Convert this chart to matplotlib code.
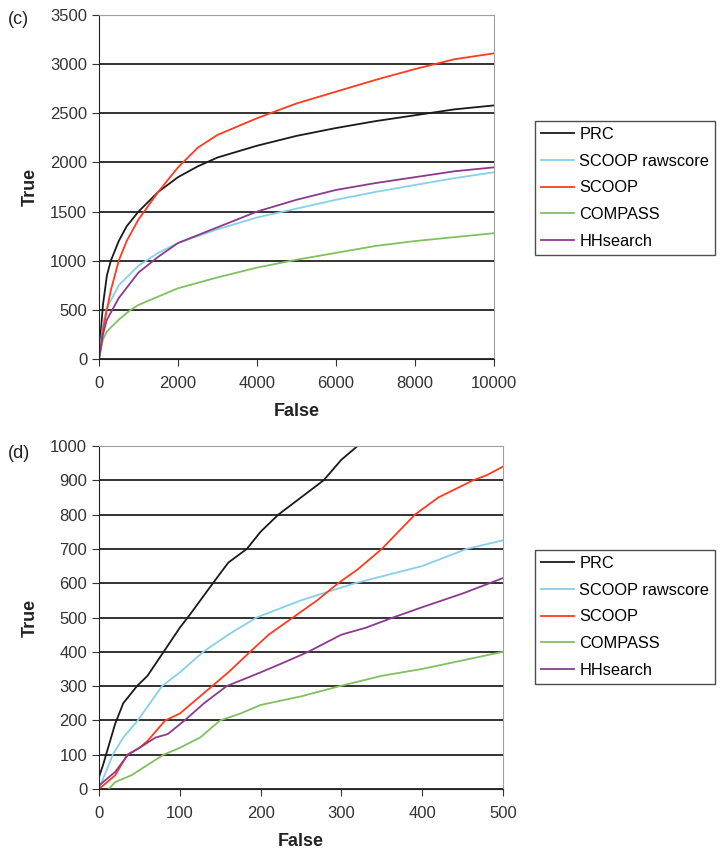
import numpy as np
import matplotlib
matplotlib.use("Agg")
import matplotlib.pyplot as plt

plt.rcParams['font.family'] = ['Liberation Sans', 'DejaVu Sans']

# ---- panel (c): False 0-10000 ----
c_prc_x = [0, 50, 100, 200, 300, 500, 700, 1000, 1500, 2000, 2500, 3000, 4000, 5000, 6000, 7000, 8000, 9000, 10000]
c_prc_y = [0, 300, 550, 850, 1000, 1200, 1350, 1500, 1700, 1850, 1960, 2050, 2170, 2270, 2350, 2420, 2480, 2540, 2580]

c_raw_x = [0, 100, 200, 500, 1000, 1500, 2000, 3000, 4000, 5000, 6000, 7000, 8000, 9000, 10000]
c_raw_y = [0, 350, 520, 750, 950, 1080, 1180, 1320, 1440, 1530, 1620, 1700, 1770, 1840, 1900]

c_scoop_x = [0, 100, 200, 300, 500, 700, 1000, 1500, 2000, 2500, 3000, 4000, 5000, 6000, 7000, 8000, 9000, 10000]
c_scoop_y = [0, 300, 500, 700, 1000, 1200, 1420, 1700, 1950, 2150, 2280, 2450, 2600, 2720, 2840, 2950, 3050, 3110]

c_compass_x = [0, 100, 200, 500, 800, 1000, 2000, 3000, 4000, 5000, 6000, 7000, 8000, 9000, 10000]
c_compass_y = [0, 200, 280, 400, 500, 550, 720, 830, 930, 1010, 1080, 1150, 1200, 1240, 1280]

c_hh_x = [0, 100, 200, 500, 1000, 1500, 2000, 3000, 4000, 5000, 6000, 7000, 8000, 9000, 10000]
c_hh_y = [0, 250, 400, 620, 880, 1040, 1180, 1340, 1500, 1620, 1720, 1790, 1850, 1910, 1950]

# ---- panel (d): False 0-500 ----
d_prc_x = [0, 5, 10, 20, 30, 47, 60, 80, 100, 113, 141, 160, 183, 200, 222, 250, 278, 300, 320]
d_prc_y = [35, 70, 110, 190, 250, 300, 330, 400, 470, 510, 600, 660, 700, 750, 800, 850, 900, 960, 1000]

d_raw_x = [0, 17, 30, 48, 78, 100, 129, 160, 195, 250, 317, 400, 455, 500]
d_raw_y = [0, 100, 150, 200, 300, 340, 400, 450, 500, 550, 600, 650, 700, 725]

d_scoop_x = [0, 10, 20, 35, 50, 60, 82, 100, 120, 140, 160, 187, 210, 240, 270, 296, 320, 350, 391, 420, 463, 480, 500]
d_scoop_y = [0, 20, 40, 100, 120, 140, 200, 220, 260, 300, 340, 400, 450, 500, 550, 600, 640, 700, 800, 850, 900, 915, 940]

d_compass_x = [12, 20, 40, 60, 80, 100, 125, 150, 175, 200, 250, 298, 350, 400, 450, 500]
d_compass_y = [0, 20, 40, 70, 100, 120, 150, 200, 220, 245, 270, 300, 330, 350, 375, 400]

d_hh_x = [0, 10, 20, 36, 50, 70, 85, 106, 130, 158, 200, 230, 259, 300, 330, 364, 400, 450, 500]
d_hh_y = [10, 30, 50, 100, 120, 150, 160, 200, 250, 300, 340, 370, 400, 450, 470, 500, 530, 570, 615]

names = ['PRC', 'SCOOP rawscore', 'SCOOP', 'COMPASS', 'HHsearch']
colors = ['#1a1a1a', '#86d0e8', '#ff3a1f', '#80c060', '#8c3a8c']

fig = plt.figure(figsize=(7.26, 8.55), dpi=100)
ax1 = fig.add_axes([99/726, 1-359/855, 395/726, 344/855])
ax2 = fig.add_axes([99/726, 1-789/855, 404/726, 343/855])

panels = [
    (ax1, [(c_prc_x, c_prc_y), (c_raw_x, c_raw_y), (c_scoop_x, c_scoop_y), (c_compass_x, c_compass_y), (c_hh_x, c_hh_y)],
     (0, 10000), 2000, (0, 3500), 500, '(c)', 20, 121),
    (ax2, [(d_prc_x, d_prc_y), (d_raw_x, d_raw_y), (d_scoop_x, d_scoop_y), (d_compass_x, d_compass_y), (d_hh_x, d_hh_y)],
     (0, 500), 100, (0, 1000), 100, '(d)', 453, 550),
]

for ax, series, xl, xs, yl, ys, tag, tagy, legtop in panels:
    for (x, y), n, c in zip(series, names, colors):
        ax.plot(x, y, color=c, lw=1.3, label=n)
    ax.set_xlim(*xl)
    ax.set_ylim(*yl)
    ax.set_xticks(np.arange(xl[0], xl[1] + 1, xs))
    ax.set_yticks(np.arange(yl[0], yl[1] + 1, ys))
    ax.yaxis.grid(True, color='#222222', lw=1.3)
    ax.set_axisbelow(True)
    for s in ['top', 'right']:
        ax.spines[s].set_color('#a0a0a0')
    for s in ['left', 'bottom']:
        ax.spines[s].set_color('#222222')
    ax.tick_params(labelsize=12, colors='#333333', length=5, direction='out')
    ax.tick_params(axis='x', pad=7)
    ax.set_xlabel('False', fontsize=13, fontweight='bold', color='#222222', labelpad=9)
    ax.set_ylabel('True', fontsize=13, fontweight='bold', color='#222222', labelpad=8)
    fig.text(8/726, 1-tagy/855, tag, fontsize=13, color='#222222', va='center')
    leg = fig.legend(*ax.get_legend_handles_labels(), loc='upper left',
                     bbox_to_anchor=(535/726, 1-legtop/855), fontsize=11.8,
                     fancybox=False, edgecolor='#222222', handlelength=2.0,
                     labelspacing=0.72, borderpad=0.35, handletextpad=0.35,
                     borderaxespad=0)
    leg.get_frame().set_linewidth(1.0)

fig.savefig('out.png', dpi=100)
